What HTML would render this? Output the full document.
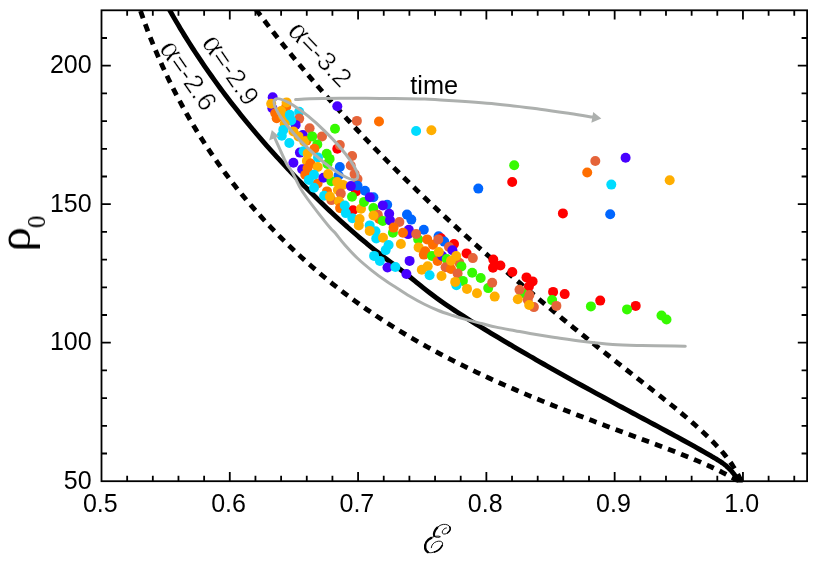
<!DOCTYPE html>
<html><head><meta charset="utf-8"><title>chart</title>
<style>html,body{margin:0;padding:0;background:#fff;}svg{display:block;}text{font-family:"Liberation Sans",sans-serif;fill:#000;}</style></head>
<body>
<svg width="831" height="566" viewBox="0 0 831 566">
<rect width="831" height="566" fill="#fff"/>
<defs><clipPath id="cp"><rect x="101.50" y="10.30" width="705.60" height="472.10"/></clipPath></defs>
<g clip-path="url(#cp)" fill="none" stroke="#000">
<path d="M136.39,-1.51 C136.84,-0.12 138.19,4.05 139.12,6.82 C140.05,9.59 141.00,12.34 141.97,15.09 C142.94,17.84 143.92,20.58 144.92,23.31 C145.92,26.04 146.94,28.76 147.98,31.47 C149.02,34.18 150.07,36.89 151.14,39.58 C152.21,42.27 153.31,44.95 154.42,47.62 C155.53,50.29 156.65,52.96 157.79,55.61 C158.93,58.26 160.10,60.90 161.28,63.53 C162.46,66.16 163.66,68.79 164.87,71.40 C166.08,74.01 167.31,76.61 168.56,79.20 C169.81,81.79 171.08,84.37 172.37,86.94 C173.66,89.51 174.96,92.07 176.28,94.62 C177.60,97.17 178.94,99.71 180.29,102.23 C181.64,104.75 183.02,107.27 184.41,109.77 C185.80,112.27 187.21,114.77 188.64,117.25 C190.07,119.73 191.51,122.20 192.97,124.66 C194.43,127.12 195.91,129.56 197.41,132.00 C198.91,134.44 200.43,136.86 201.96,139.27 C203.49,141.68 205.04,144.08 206.61,146.47 C208.18,148.86 209.77,151.24 211.37,153.60 C212.97,155.96 214.59,158.31 216.23,160.65 C217.87,162.99 219.53,165.32 221.20,167.64 C222.87,169.96 224.56,172.26 226.27,174.55 C227.98,176.84 229.70,179.12 231.45,181.38 C233.19,183.64 234.96,185.90 236.74,188.14 C238.52,190.38 240.32,192.61 242.13,194.82 C243.94,197.03 245.77,199.23 247.62,201.42 C249.47,203.61 251.33,205.78 253.21,207.94 C255.09,210.10 256.99,212.25 258.90,214.39 C260.81,216.52 262.74,218.64 264.69,220.75 C266.64,222.86 268.60,224.95 270.58,227.03 C272.56,229.11 274.54,231.18 276.55,233.23 C278.56,235.28 280.58,237.32 282.62,239.34 C284.66,241.36 286.71,243.37 288.78,245.37 C290.85,247.37 292.93,249.35 295.02,251.32 C297.11,253.29 299.22,255.24 301.34,257.18 C303.46,259.12 305.60,261.04 307.75,262.95 C309.90,264.86 312.06,266.75 314.24,268.63 C316.42,270.51 318.61,272.37 320.81,274.22 C323.01,276.07 325.23,277.91 327.46,279.73 C329.69,281.55 331.93,283.35 334.18,285.14 C336.43,286.93 338.70,288.70 340.97,290.46 C343.25,292.22 345.53,293.96 347.83,295.69 C350.13,297.42 352.44,299.13 354.76,300.83 C357.08,302.53 359.41,304.21 361.75,305.87 C364.09,307.53 366.45,309.18 368.82,310.81 C371.19,312.44 373.56,314.06 375.94,315.66 C378.32,317.26 380.72,318.84 383.12,320.41 C385.52,321.98 387.94,323.52 390.36,325.06 C392.78,326.60 395.22,328.12 397.66,329.62 C400.10,331.12 402.55,332.61 405.01,334.09 C407.47,335.56 409.93,337.02 412.41,338.47 C414.89,339.92 417.38,341.35 419.87,342.77 C422.36,344.19 424.86,345.59 427.37,346.98 C429.88,348.37 432.40,349.75 434.92,351.11 C437.44,352.47 439.98,353.82 442.52,355.16 C445.06,356.50 447.60,357.83 450.15,359.14 C452.70,360.45 455.26,361.75 457.83,363.04 C460.40,364.33 462.97,365.61 465.55,366.88 C468.13,368.15 470.72,369.40 473.31,370.65 C475.90,371.89 478.50,373.13 481.10,374.35 C483.70,375.57 486.31,376.79 488.92,377.99 C491.53,379.19 494.15,380.39 496.77,381.57 C499.39,382.75 502.03,383.92 504.66,385.09 C507.29,386.25 509.93,387.41 512.57,388.56 C515.21,389.71 517.86,390.85 520.51,391.98 C523.16,393.11 525.81,394.22 528.47,395.34 C531.13,396.45 533.79,397.57 536.45,398.67 C539.11,399.77 541.78,400.86 544.45,401.94 C547.12,403.02 549.80,404.11 552.48,405.18 C555.16,406.25 557.83,407.32 560.51,408.38 C563.19,409.44 565.87,410.49 568.56,411.54 C571.25,412.59 573.94,413.63 576.63,414.67 C579.32,415.71 582.01,416.74 584.70,417.77 C587.39,418.80 590.09,419.82 592.78,420.84 C595.47,421.86 598.17,422.88 600.86,423.89 C603.55,424.90 606.25,425.92 608.94,426.93 C611.63,427.94 614.33,428.94 617.02,429.95 C619.71,430.95 622.41,431.96 625.10,432.96 C627.79,433.96 630.47,434.96 633.16,435.96 C635.85,436.96 638.53,437.97 641.21,438.97 C643.89,439.97 646.57,440.97 649.25,441.97 C651.93,442.97 654.60,443.98 657.27,444.98 C659.94,445.99 662.61,446.99 665.27,448.00 C667.93,449.01 670.60,450.03 673.25,451.05 C675.90,452.07 678.56,453.10 681.20,454.15 C683.85,455.20 686.49,456.26 689.12,457.34 C691.75,458.42 694.39,459.51 697.01,460.63 C699.63,461.75 703.25,463.35 704.86,464.06 C706.47,464.77 706.12,464.62 706.68,464.88 C707.24,465.13 707.72,465.35 708.24,465.59 C708.76,465.83 709.28,466.06 709.80,466.30 C710.32,466.54 710.83,466.78 711.35,467.02 C711.87,467.26 712.39,467.50 712.91,467.75 C713.43,468.00 713.94,468.24 714.46,468.49 C714.98,468.74 715.49,468.98 716.01,469.23 C716.53,469.48 717.04,469.73 717.56,469.98 C718.08,470.23 718.60,470.49 719.11,470.74 C719.62,471.00 720.13,471.25 720.65,471.51 C721.16,471.77 721.69,472.03 722.20,472.29 C722.72,472.55 723.23,472.81 723.74,473.07 C724.25,473.33 724.77,473.59 725.28,473.86 C725.79,474.13 726.31,474.40 726.82,474.67 C727.33,474.94 727.85,475.21 728.36,475.48 C728.87,475.75 729.38,476.03 729.89,476.30 C730.40,476.57 730.91,476.85 731.42,477.13 C731.93,477.41 732.45,477.69 732.96,477.97 C733.47,478.25 733.97,478.54 734.48,478.82 C734.99,479.10 735.50,479.38 736.01,479.67 C736.52,479.96 737.03,480.25 737.54,480.54 C738.05,480.83 738.55,481.12 739.06,481.42 C739.57,481.72 740.07,482.01 740.58,482.31 C741.09,482.61 741.85,483.07 742.10,483.22" stroke-width="4.80" stroke-dasharray="7.6 6.4" stroke-dashoffset="0.8"/>
<path d="M249.52,0.58 C250.24,1.57 252.40,4.53 253.85,6.50 C255.30,8.47 256.75,10.44 258.21,12.40 C259.67,14.36 261.15,16.32 262.62,18.27 C264.09,20.22 265.57,22.16 267.05,24.10 C268.53,26.04 270.02,27.98 271.52,29.91 C273.01,31.84 274.51,33.78 276.02,35.70 C277.53,37.62 279.04,39.54 280.56,41.45 C282.08,43.36 283.60,45.27 285.13,47.18 C286.66,49.09 288.19,50.98 289.73,52.88 C291.27,54.78 292.81,56.67 294.36,58.56 C295.91,60.45 297.47,62.33 299.03,64.21 C300.59,66.09 302.15,67.96 303.72,69.83 C305.29,71.70 306.87,73.56 308.45,75.42 C310.03,77.28 311.61,79.14 313.20,80.99 C314.79,82.84 316.39,84.70 317.99,86.54 C319.59,88.39 321.19,90.23 322.80,92.06 C324.41,93.89 326.02,95.72 327.64,97.55 C329.26,99.38 330.88,101.20 332.51,103.02 C334.14,104.84 335.77,106.66 337.41,108.47 C339.05,110.28 340.69,112.09 342.34,113.89 C343.99,115.69 345.63,117.48 347.29,119.28 C348.95,121.08 350.61,122.87 352.27,124.66 C353.93,126.45 355.60,128.23 357.27,130.01 C358.94,131.79 360.62,133.56 362.30,135.33 C363.98,137.10 365.66,138.87 367.35,140.63 C369.04,142.39 370.73,144.15 372.43,145.91 C374.13,147.67 375.82,149.42 377.53,151.17 C379.23,152.92 380.95,154.67 382.66,156.41 C384.37,158.15 386.08,159.89 387.80,161.62 C389.52,163.35 391.25,165.08 392.98,166.81 C394.71,168.54 396.44,170.26 398.17,171.98 C399.90,173.70 401.64,175.42 403.38,177.13 C405.12,178.84 406.87,180.55 408.62,182.26 C410.37,183.97 412.12,185.66 413.88,187.36 C415.63,189.06 417.39,190.76 419.15,192.45 C420.91,194.14 422.68,195.82 424.45,197.51 C426.22,199.19 428.00,200.88 429.77,202.56 C431.54,204.24 433.32,205.91 435.10,207.58 C436.88,209.25 438.66,210.92 440.45,212.59 C442.24,214.26 444.03,215.92 445.82,217.58 C447.61,219.24 449.41,220.89 451.21,222.54 C453.01,224.19 454.81,225.84 456.62,227.49 C458.43,229.14 460.23,230.78 462.04,232.42 C463.85,234.06 465.66,235.70 467.48,237.33 C469.30,238.96 471.12,240.59 472.94,242.22 C474.76,243.85 476.57,245.48 478.40,247.10 C480.22,248.72 482.06,250.34 483.89,251.96 C485.72,253.58 487.56,255.19 489.39,256.80 C491.22,258.41 493.06,260.02 494.90,261.62 C496.74,263.22 498.58,264.82 500.43,266.42 C502.28,268.02 504.12,269.62 505.97,271.21 C507.82,272.80 509.67,274.40 511.52,275.99 C513.37,277.58 515.22,279.16 517.08,280.74 C518.94,282.32 520.80,283.90 522.66,285.48 C524.52,287.06 526.38,288.64 528.25,290.21 C530.12,291.78 531.99,293.35 533.86,294.92 C535.73,296.49 537.60,298.06 539.47,299.62 C541.34,301.18 543.22,302.74 545.10,304.30 C546.98,305.86 548.86,307.42 550.74,308.97 C552.62,310.53 554.50,312.08 556.38,313.63 C558.26,315.18 560.15,316.72 562.04,318.27 C563.93,319.82 565.82,321.37 567.71,322.91 C569.60,324.45 571.49,325.98 573.39,327.52 C575.29,329.06 577.19,330.59 579.09,332.13 C580.99,333.67 582.89,335.20 584.79,336.73 C586.69,338.26 588.60,339.79 590.50,341.31 C592.40,342.83 594.30,344.36 596.21,345.88 C598.12,347.40 600.03,348.93 601.94,350.45 C603.85,351.97 605.76,353.49 607.68,355.00 C609.59,356.51 611.51,358.03 613.43,359.54 C615.35,361.05 617.26,362.56 619.18,364.07 C621.10,365.58 623.02,367.09 624.94,368.60 C626.86,370.11 628.79,371.61 630.71,373.11 C632.63,374.61 634.56,376.12 636.49,377.62 C638.42,379.12 640.34,380.62 642.27,382.12 C644.20,383.62 646.13,385.12 648.06,386.62 C649.99,388.12 651.92,389.62 653.85,391.12 C655.78,392.62 657.70,394.12 659.62,395.63 C661.54,397.14 663.46,398.66 665.37,400.18 C667.28,401.70 669.20,403.22 671.10,404.75 C673.00,406.28 674.90,407.82 676.79,409.37 C678.68,410.92 680.56,412.48 682.43,414.05 C684.30,415.62 686.17,417.20 688.03,418.79 C689.89,420.38 691.74,421.99 693.57,423.61 C695.40,425.23 697.22,426.86 699.03,428.51 C700.84,430.16 702.64,431.82 704.43,433.50 C706.21,435.18 707.99,436.88 709.74,438.60 C711.49,440.32 713.22,442.06 714.91,443.83 C716.60,445.60 718.85,448.06 719.90,449.21 C720.95,450.35 720.81,450.24 721.22,450.70 C721.63,451.16 721.98,451.56 722.35,452.00 C722.72,452.44 723.09,452.87 723.45,453.31 C723.82,453.75 724.18,454.18 724.54,454.62 C724.90,455.06 725.26,455.50 725.62,455.95 C725.98,456.39 726.33,456.84 726.68,457.29 C727.03,457.74 727.38,458.19 727.72,458.64 C728.06,459.09 728.40,459.54 728.74,460.00 C729.08,460.46 729.42,460.92 729.75,461.38 C730.08,461.84 730.40,462.30 730.73,462.76 C731.06,463.22 731.38,463.69 731.70,464.16 C732.02,464.63 732.33,465.11 732.64,465.58 C732.95,466.05 733.27,466.52 733.57,467.00 C733.88,467.48 734.17,467.96 734.47,468.44 C734.77,468.92 735.06,469.40 735.35,469.89 C735.64,470.38 735.92,470.87 736.20,471.36 C736.48,471.85 736.76,472.34 737.03,472.84 C737.30,473.34 737.58,473.84 737.84,474.34 C738.11,474.84 738.37,475.34 738.62,475.85 C738.88,476.36 739.12,476.87 739.37,477.38 C739.62,477.89 739.86,478.41 740.10,478.93 C740.34,479.45 740.57,479.96 740.80,480.48 C741.03,481.00 741.25,481.53 741.47,482.06 C741.69,482.59 742.00,483.38 742.11,483.65" stroke-width="4.80" stroke-dasharray="7.6 6.4" stroke-dashoffset="3.1"/>
<path d="M163.92,-0.22 C164.57,0.98 166.53,4.57 167.85,6.95 C169.17,9.33 170.51,11.71 171.86,14.07 C173.21,16.43 174.57,18.79 175.94,21.13 C177.31,23.47 178.70,25.81 180.10,28.14 C181.50,30.47 182.91,32.79 184.34,35.10 C185.77,37.41 187.20,39.72 188.65,42.01 C190.10,44.30 191.57,46.58 193.04,48.86 C194.51,51.14 195.99,53.41 197.49,55.67 C198.99,57.93 200.50,60.18 202.02,62.42 C203.54,64.66 205.08,66.90 206.62,69.13 C208.16,71.36 209.72,73.57 211.29,75.78 C212.86,77.99 214.43,80.19 216.02,82.38 C217.61,84.57 219.21,86.76 220.82,88.94 C222.43,91.12 224.06,93.29 225.69,95.45 C227.32,97.61 228.97,99.77 230.62,101.91 C232.28,104.05 233.94,106.19 235.62,108.32 C237.30,110.45 238.98,112.57 240.68,114.68 C242.38,116.79 244.08,118.90 245.80,121.00 C247.52,123.10 249.24,125.19 250.98,127.27 C252.72,129.35 254.46,131.43 256.22,133.50 C257.98,135.57 259.75,137.63 261.52,139.68 C263.29,141.73 265.07,143.77 266.87,145.81 C268.67,147.85 270.48,149.88 272.29,151.90 C274.10,153.92 275.92,155.94 277.75,157.95 C279.58,159.96 281.42,161.96 283.27,163.95 C285.12,165.94 286.98,167.93 288.85,169.91 C290.72,171.89 292.60,173.87 294.48,175.83 C296.36,177.80 298.25,179.75 300.15,181.70 C302.05,183.65 303.96,185.60 305.88,187.54 C307.80,189.48 309.73,191.41 311.66,193.33 C313.59,195.25 315.53,197.16 317.48,199.07 C319.43,200.97 321.39,202.87 323.36,204.76 C325.33,206.65 327.30,208.52 329.28,210.39 C331.26,212.26 333.24,214.12 335.24,215.97 C337.24,217.82 339.25,219.66 341.26,221.48 C343.27,223.30 345.28,225.12 347.31,226.92 C349.34,228.72 351.38,230.51 353.42,232.28 C355.46,234.05 357.50,235.82 359.56,237.56 C361.62,239.30 363.68,241.03 365.75,242.74 C367.82,244.45 369.91,246.15 371.99,247.83 C374.07,249.51 376.16,251.16 378.26,252.80 C380.36,254.44 382.47,256.06 384.58,257.66 C386.69,259.26 388.81,260.84 390.94,262.42 C393.07,264.00 395.20,265.56 397.34,267.17 C399.48,268.78 401.62,270.40 403.77,272.08 C405.92,273.76 408.08,275.50 410.25,277.25 C412.42,279.00 414.59,280.80 416.77,282.57 C418.95,284.34 421.13,286.13 423.32,287.87 C425.51,289.61 427.71,291.32 429.91,293.00 C432.11,294.68 434.32,296.31 436.53,297.93 C438.74,299.55 440.96,301.13 443.19,302.69 C445.42,304.25 447.65,305.79 449.89,307.30 C452.13,308.81 454.37,310.30 456.62,311.78 C458.87,313.26 461.12,314.72 463.38,316.16 C465.64,317.61 467.91,319.03 470.18,320.45 C472.45,321.87 474.73,323.28 477.01,324.69 C479.29,326.10 481.57,327.49 483.86,328.88 C486.15,330.27 488.45,331.67 490.75,333.06 C493.05,334.45 495.36,335.84 497.67,337.22 C499.98,338.60 502.30,339.98 504.62,341.36 C506.94,342.74 509.26,344.11 511.59,345.48 C513.92,346.85 516.25,348.21 518.59,349.58 C520.93,350.94 523.27,352.31 525.61,353.67 C527.95,355.03 530.30,356.39 532.65,357.74 C535.00,359.09 537.36,360.44 539.71,361.79 C542.07,363.14 544.42,364.48 546.78,365.82 C549.14,367.16 551.51,368.50 553.88,369.84 C556.25,371.18 558.62,372.51 560.99,373.84 C563.36,375.17 565.73,376.50 568.11,377.82 C570.49,379.14 572.87,380.47 575.25,381.79 C577.63,383.11 580.01,384.43 582.40,385.74 C584.78,387.06 587.17,388.37 589.56,389.68 C591.95,390.99 594.33,392.31 596.72,393.61 C599.11,394.92 601.50,396.21 603.89,397.51 C606.28,398.81 608.68,400.11 611.07,401.41 C613.46,402.71 615.86,404.00 618.25,405.29 C620.64,406.58 623.04,407.87 625.43,409.16 C627.82,410.45 630.22,411.74 632.61,413.02 C635.00,414.30 637.40,415.58 639.79,416.86 C642.18,418.14 644.58,419.42 646.97,420.70 C649.36,421.98 651.75,423.25 654.14,424.53 C656.53,425.81 658.91,427.09 661.30,428.37 C663.68,429.65 666.07,430.93 668.45,432.22 C670.83,433.51 673.21,434.79 675.59,436.09 C677.97,437.38 680.34,438.69 682.71,439.99 C685.08,441.30 687.45,442.61 689.82,443.92 C692.19,445.24 694.55,446.55 696.91,447.88 C699.27,449.21 701.62,450.54 703.97,451.89 C706.32,453.24 709.55,455.12 711.01,455.96 C712.47,456.80 712.21,456.65 712.74,456.96 C713.27,457.27 713.73,457.54 714.22,457.83 C714.71,458.12 715.20,458.42 715.69,458.71 C716.18,459.00 716.67,459.29 717.16,459.59 C717.65,459.89 718.14,460.19 718.62,460.50 C719.10,460.81 719.58,461.11 720.06,461.42 C720.54,461.73 721.01,462.05 721.48,462.37 C721.95,462.69 722.43,463.02 722.89,463.36 C723.35,463.70 723.81,464.04 724.26,464.39 C724.71,464.74 725.17,465.09 725.61,465.45 C726.05,465.81 726.49,466.18 726.92,466.56 C727.35,466.94 727.78,467.33 728.20,467.72 C728.62,468.11 729.03,468.51 729.43,468.91 C729.83,469.31 730.23,469.72 730.62,470.14 C731.01,470.56 731.39,470.98 731.77,471.41 C732.14,471.84 732.51,472.27 732.87,472.71 C733.23,473.15 733.59,473.59 733.94,474.04 C734.29,474.49 734.64,474.94 734.99,475.40 C735.34,475.85 735.67,476.31 736.01,476.77 C736.35,477.23 736.69,477.70 737.03,478.17 C737.37,478.64 737.71,479.10 738.05,479.57 C738.39,480.04 738.73,480.51 739.08,480.98 C739.43,481.45 739.78,481.92 740.13,482.39 C740.48,482.86 741.02,483.56 741.20,483.80" stroke-width="4.90"/>
</g>
<g>
<circle cx="356.0" cy="191.4" r="5.00" fill="#ff0000"/>
<circle cx="353.0" cy="210.2" r="5.00" fill="#ff0000"/>
<circle cx="379.2" cy="219.0" r="5.00" fill="#ff6e00"/>
<circle cx="317.6" cy="183.5" r="5.00" fill="#ff6e00"/>
<circle cx="272.7" cy="97.3" r="5.00" fill="#4800ff"/>
<circle cx="272.4" cy="108.2" r="5.00" fill="#4800ff"/>
<circle cx="271.2" cy="103.8" r="5.00" fill="#ffae00"/>
<circle cx="286.2" cy="106.7" r="5.00" fill="#ff6e00"/>
<circle cx="286.6" cy="102.4" r="5.00" fill="#ffae00"/>
<circle cx="275.3" cy="113.3" r="5.00" fill="#ff6e00"/>
<circle cx="276.7" cy="118.3" r="5.00" fill="#ff6e00"/>
<circle cx="281.1" cy="111.1" r="5.00" fill="#ffae00"/>
<circle cx="283.3" cy="116.2" r="5.00" fill="#ffae00"/>
<circle cx="299.2" cy="111.8" r="5.00" fill="#00dcff"/>
<circle cx="289.8" cy="114.7" r="5.00" fill="#00dcff"/>
<circle cx="299.2" cy="118.6" r="5.00" fill="#e5643a"/>
<circle cx="295.6" cy="124.9" r="5.00" fill="#4800ff"/>
<circle cx="291.2" cy="120.5" r="5.00" fill="#00dcff"/>
<circle cx="284.7" cy="124.1" r="5.00" fill="#ffae00"/>
<circle cx="283.3" cy="129.9" r="5.00" fill="#00dcff"/>
<circle cx="281.8" cy="135.7" r="5.00" fill="#00dcff"/>
<circle cx="289.3" cy="143.0" r="5.00" fill="#00dcff"/>
<circle cx="302.8" cy="135.0" r="5.00" fill="#4800ff"/>
<circle cx="293.4" cy="131.4" r="5.00" fill="#ffae00"/>
<circle cx="298.5" cy="136.4" r="5.00" fill="#ffae00"/>
<circle cx="306.4" cy="140.8" r="5.00" fill="#ff6e00"/>
<circle cx="304.3" cy="141.5" r="5.00" fill="#ffae00"/>
<circle cx="309.6" cy="128.2" r="5.00" fill="#e5643a"/>
<circle cx="312.2" cy="136.4" r="5.00" fill="#36fa00"/>
<circle cx="322.0" cy="136.4" r="5.00" fill="#e5643a"/>
<circle cx="317.3" cy="144.4" r="5.00" fill="#36fa00"/>
<circle cx="314.4" cy="148.8" r="5.00" fill="#ff6e00"/>
<circle cx="335.0" cy="128.8" r="5.00" fill="#36fa00"/>
<circle cx="337.3" cy="106.3" r="5.00" fill="#4800ff"/>
<circle cx="356.9" cy="120.9" r="5.00" fill="#e5643a"/>
<circle cx="379.0" cy="121.5" r="5.00" fill="#ff6e00"/>
<circle cx="337.3" cy="148.8" r="5.00" fill="#ff0000"/>
<circle cx="339.8" cy="145.1" r="5.00" fill="#e5643a"/>
<circle cx="352.1" cy="156.0" r="5.00" fill="#e5643a"/>
<circle cx="350.7" cy="165.5" r="5.00" fill="#e5643a"/>
<circle cx="326.7" cy="153.8" r="5.00" fill="#36fa00"/>
<circle cx="329.6" cy="158.9" r="5.00" fill="#36fa00"/>
<circle cx="327.5" cy="164.0" r="5.00" fill="#36fa00"/>
<circle cx="339.8" cy="167.0" r="5.00" fill="#0066ff"/>
<circle cx="299.9" cy="152.6" r="5.00" fill="#4800ff"/>
<circle cx="303.6" cy="151.3" r="5.00" fill="#00dcff"/>
<circle cx="307.7" cy="153.4" r="5.00" fill="#ffae00"/>
<circle cx="306.9" cy="160.9" r="5.00" fill="#ffae00"/>
<circle cx="310.5" cy="163.5" r="5.00" fill="#ff6e00"/>
<circle cx="318.0" cy="157.5" r="5.00" fill="#00dcff"/>
<circle cx="317.7" cy="167.0" r="5.00" fill="#ffae00"/>
<circle cx="293.4" cy="162.7" r="5.00" fill="#4800ff"/>
<circle cx="302.2" cy="169.2" r="5.00" fill="#4800ff"/>
<circle cx="354.6" cy="174.1" r="5.00" fill="#e5643a"/>
<circle cx="357.5" cy="179.1" r="5.00" fill="#e5643a"/>
<circle cx="338.6" cy="175.5" r="5.00" fill="#0066ff"/>
<circle cx="307.5" cy="168.3" r="5.00" fill="#ff6e00"/>
<circle cx="305.3" cy="174.8" r="5.00" fill="#ff6e00"/>
<circle cx="314.0" cy="174.8" r="5.00" fill="#00dcff"/>
<circle cx="308.9" cy="179.9" r="5.00" fill="#00dcff"/>
<circle cx="314.0" cy="187.8" r="5.00" fill="#00dcff"/>
<circle cx="323.4" cy="177.7" r="5.00" fill="#4800ff"/>
<circle cx="331.4" cy="181.3" r="5.00" fill="#36fa00"/>
<circle cx="328.2" cy="174.1" r="5.00" fill="#ffae00"/>
<circle cx="337.2" cy="182.0" r="5.00" fill="#ffae00"/>
<circle cx="343.0" cy="184.9" r="5.00" fill="#ffae00"/>
<circle cx="337.9" cy="190.0" r="5.00" fill="#ffae00"/>
<circle cx="357.5" cy="185.7" r="5.00" fill="#0066ff"/>
<circle cx="350.9" cy="186.1" r="5.00" fill="#4800ff"/>
<circle cx="365.0" cy="190.7" r="5.00" fill="#0066ff"/>
<circle cx="352.0" cy="196.8" r="5.00" fill="#36fa00"/>
<circle cx="327.0" cy="191.4" r="5.00" fill="#ff6e00"/>
<circle cx="324.1" cy="195.8" r="5.00" fill="#00dcff"/>
<circle cx="331.4" cy="200.1" r="5.00" fill="#e5643a"/>
<circle cx="329.9" cy="196.5" r="5.00" fill="#ffae00"/>
<circle cx="340.8" cy="193.6" r="5.00" fill="#e5643a"/>
<circle cx="339.0" cy="201.4" r="5.00" fill="#ffae00"/>
<circle cx="340.1" cy="208.1" r="5.00" fill="#ff6e00"/>
<circle cx="344.8" cy="205.5" r="5.00" fill="#00dcff"/>
<circle cx="345.8" cy="213.1" r="5.00" fill="#00dcff"/>
<circle cx="361.0" cy="208.8" r="5.00" fill="#ffae00"/>
<circle cx="364.0" cy="201.9" r="5.00" fill="#36fa00"/>
<circle cx="373.4" cy="197.2" r="5.00" fill="#0066ff"/>
<circle cx="369.8" cy="197.2" r="5.00" fill="#4800ff"/>
<circle cx="373.4" cy="208.1" r="5.00" fill="#36fa00"/>
<circle cx="377.8" cy="214.8" r="5.00" fill="#e5643a"/>
<circle cx="373.5" cy="215.5" r="5.00" fill="#ffae00"/>
<circle cx="387.2" cy="204.8" r="5.00" fill="#0066ff"/>
<circle cx="382.8" cy="205.4" r="5.00" fill="#4800ff"/>
<circle cx="389.2" cy="213.8" r="5.00" fill="#4800ff"/>
<circle cx="352.4" cy="218.2" r="5.00" fill="#00dcff"/>
<circle cx="359.6" cy="219.0" r="5.00" fill="#ffae00"/>
<circle cx="382.8" cy="221.0" r="5.00" fill="#36fa00"/>
<circle cx="390.0" cy="220.4" r="5.00" fill="#4800ff"/>
<circle cx="358.8" cy="225.4" r="5.00" fill="#ffae00"/>
<circle cx="369.7" cy="225.4" r="5.00" fill="#00dcff"/>
<circle cx="375.5" cy="231.2" r="5.00" fill="#00dcff"/>
<circle cx="369.7" cy="230.9" r="5.00" fill="#ffae00"/>
<circle cx="376.2" cy="238.5" r="5.00" fill="#00dcff"/>
<circle cx="383.0" cy="237.8" r="5.00" fill="#ffae00"/>
<circle cx="388.6" cy="245.0" r="5.00" fill="#00dcff"/>
<circle cx="385.7" cy="250.1" r="5.00" fill="#00dcff"/>
<circle cx="374.1" cy="255.9" r="5.00" fill="#00dcff"/>
<circle cx="379.9" cy="260.9" r="5.00" fill="#00dcff"/>
<circle cx="387.5" cy="267.5" r="5.00" fill="#4800ff"/>
<circle cx="395.4" cy="267.0" r="5.00" fill="#00dcff"/>
<circle cx="409.6" cy="260.9" r="5.00" fill="#4800ff"/>
<circle cx="406.4" cy="274.0" r="5.00" fill="#4800ff"/>
<circle cx="400.9" cy="244.0" r="5.00" fill="#ffae00"/>
<circle cx="399.4" cy="222.0" r="5.00" fill="#e5643a"/>
<circle cx="392.9" cy="232.7" r="5.00" fill="#36fa00"/>
<circle cx="393.6" cy="227.6" r="5.00" fill="#ff6e00"/>
<circle cx="408.8" cy="229.8" r="5.00" fill="#4800ff"/>
<circle cx="408.1" cy="234.1" r="5.00" fill="#4800ff"/>
<circle cx="403.0" cy="232.7" r="5.00" fill="#ff6e00"/>
<circle cx="407.0" cy="214.6" r="5.00" fill="#0066ff"/>
<circle cx="411.3" cy="219.6" r="5.00" fill="#0066ff"/>
<circle cx="423.8" cy="229.8" r="5.00" fill="#0066ff"/>
<circle cx="418.2" cy="239.4" r="5.00" fill="#36fa00"/>
<circle cx="416.2" cy="234.0" r="5.00" fill="#e5643a"/>
<circle cx="418.6" cy="247.4" r="5.00" fill="#ffae00"/>
<circle cx="427.2" cy="239.4" r="5.00" fill="#ff6e00"/>
<circle cx="433.0" cy="244.8" r="5.00" fill="#ff6e00"/>
<circle cx="423.8" cy="254.6" r="5.00" fill="#ff6e00"/>
<circle cx="425.2" cy="251.2" r="5.00" fill="#ff6e00"/>
<circle cx="432.0" cy="256.0" r="5.00" fill="#36fa00"/>
<circle cx="437.6" cy="261.0" r="5.00" fill="#ff6e00"/>
<circle cx="438.6" cy="236.2" r="5.00" fill="#0066ff"/>
<circle cx="441.0" cy="238.3" r="5.00" fill="#ff0000"/>
<circle cx="444.2" cy="241.6" r="5.00" fill="#0066ff"/>
<circle cx="438.3" cy="239.4" r="5.00" fill="#e5643a"/>
<circle cx="454.0" cy="244.0" r="5.00" fill="#ff0000"/>
<circle cx="449.0" cy="247.0" r="5.00" fill="#e5643a"/>
<circle cx="452.4" cy="250.3" r="5.00" fill="#4800ff"/>
<circle cx="442.2" cy="256.0" r="5.00" fill="#4800ff"/>
<circle cx="446.7" cy="259.0" r="5.00" fill="#36fa00"/>
<circle cx="438.8" cy="252.0" r="5.00" fill="#ffae00"/>
<circle cx="459.3" cy="262.8" r="5.00" fill="#e5643a"/>
<circle cx="461.4" cy="266.4" r="5.00" fill="#36fa00"/>
<circle cx="445.6" cy="267.3" r="5.00" fill="#e5643a"/>
<circle cx="451.0" cy="269.0" r="5.00" fill="#ff6e00"/>
<circle cx="457.6" cy="273.5" r="5.00" fill="#e5643a"/>
<circle cx="421.8" cy="269.8" r="5.00" fill="#ffae00"/>
<circle cx="427.7" cy="266.2" r="5.00" fill="#ffae00"/>
<circle cx="429.6" cy="275.2" r="5.00" fill="#00dcff"/>
<circle cx="441.5" cy="276.0" r="5.00" fill="#ffae00"/>
<circle cx="462.9" cy="280.9" r="5.00" fill="#36fa00"/>
<circle cx="456.4" cy="285.2" r="5.00" fill="#00dcff"/>
<circle cx="455.2" cy="281.9" r="5.00" fill="#ffae00"/>
<circle cx="466.6" cy="253.4" r="5.00" fill="#ff0000"/>
<circle cx="472.8" cy="258.1" r="5.00" fill="#e5643a"/>
<circle cx="472.2" cy="272.8" r="5.00" fill="#36fa00"/>
<circle cx="480.7" cy="278.0" r="5.00" fill="#36fa00"/>
<circle cx="488.2" cy="288.1" r="5.00" fill="#36fa00"/>
<circle cx="492.2" cy="282.7" r="5.00" fill="#e5643a"/>
<circle cx="467.0" cy="288.9" r="5.00" fill="#ffae00"/>
<circle cx="477.0" cy="293.2" r="5.00" fill="#ffae00"/>
<circle cx="494.7" cy="296.6" r="5.00" fill="#ffae00"/>
<circle cx="493.3" cy="259.6" r="5.00" fill="#ff0000"/>
<circle cx="500.4" cy="265.5" r="5.00" fill="#ff0000"/>
<circle cx="493.0" cy="267.8" r="5.00" fill="#ff0000"/>
<circle cx="512.3" cy="272.0" r="5.00" fill="#ff0000"/>
<circle cx="526.5" cy="277.4" r="5.00" fill="#ff0000"/>
<circle cx="532.6" cy="281.4" r="5.00" fill="#ff0000"/>
<circle cx="528.9" cy="286.5" r="5.00" fill="#ff0000"/>
<circle cx="522.3" cy="293.2" r="5.00" fill="#36fa00"/>
<circle cx="519.5" cy="289.8" r="5.00" fill="#e5643a"/>
<circle cx="529.4" cy="295.1" r="5.00" fill="#e5643a"/>
<circle cx="517.8" cy="299.2" r="5.00" fill="#ffae00"/>
<circle cx="533.9" cy="307.1" r="5.00" fill="#e5643a"/>
<circle cx="527.8" cy="299.9" r="5.00" fill="#e5643a"/>
<circle cx="529.2" cy="305.0" r="5.00" fill="#ffae00"/>
<circle cx="553.1" cy="291.9" r="5.00" fill="#ff0000"/>
<circle cx="564.7" cy="294.1" r="5.00" fill="#ff0000"/>
<circle cx="552.1" cy="300.1" r="5.00" fill="#36fa00"/>
<circle cx="556.4" cy="305.9" r="5.00" fill="#e5643a"/>
<circle cx="600.2" cy="300.6" r="5.00" fill="#ff0000"/>
<circle cx="590.9" cy="306.4" r="5.00" fill="#36fa00"/>
<circle cx="635.7" cy="305.9" r="5.00" fill="#ff0000"/>
<circle cx="627.0" cy="309.4" r="5.00" fill="#36fa00"/>
<circle cx="661.5" cy="315.5" r="5.00" fill="#36fa00"/>
<circle cx="666.5" cy="319.5" r="5.00" fill="#36fa00"/>
<circle cx="416.1" cy="131.0" r="5.00" fill="#00dcff"/>
<circle cx="431.4" cy="130.2" r="5.00" fill="#ffae00"/>
<circle cx="514.2" cy="165.2" r="5.00" fill="#36fa00"/>
<circle cx="512.2" cy="182.0" r="5.00" fill="#ff0000"/>
<circle cx="478.3" cy="188.6" r="5.00" fill="#0066ff"/>
<circle cx="595.3" cy="161.0" r="5.00" fill="#e5643a"/>
<circle cx="625.6" cy="157.8" r="5.00" fill="#4800ff"/>
<circle cx="587.2" cy="172.5" r="5.00" fill="#ff6e00"/>
<circle cx="611.3" cy="184.6" r="5.00" fill="#00dcff"/>
<circle cx="669.7" cy="180.2" r="5.00" fill="#ffae00"/>
<circle cx="562.9" cy="213.4" r="5.00" fill="#ff0000"/>
<circle cx="610.2" cy="214.2" r="5.00" fill="#0066ff"/>
<circle cx="451.0" cy="260.8" r="5.00" fill="#ffae00"/>
<circle cx="456.2" cy="256.0" r="5.00" fill="#ffae00"/>
</g>
<g fill="none" stroke="#adb0ae" stroke-width="3.00" stroke-linecap="round">
<path d="M295.60,99.60 C298.00,99.45 302.60,98.92 310.00,98.70 C317.40,98.48 328.33,98.35 340.00,98.30 C351.67,98.25 366.67,98.28 380.00,98.40 C393.33,98.52 410.37,98.77 420.00,99.00 C429.63,99.23 425.22,98.98 437.80,99.80 C450.38,100.62 478.47,102.33 495.50,103.90 C512.53,105.47 527.58,107.60 540.00,109.20 C552.42,110.80 561.25,112.18 570.00,113.50 C578.75,114.82 588.75,116.50 592.50,117.10"/>
<path d="M685.30,346.30 C683.58,346.27 682.28,346.23 675.00,346.10 C667.72,345.97 651.97,345.78 641.60,345.50 C631.23,345.22 622.42,345.07 612.80,344.40 C603.18,343.73 593.53,342.67 583.90,341.50 C574.27,340.33 563.98,338.73 555.00,337.40 C546.02,336.07 536.67,334.62 530.00,333.50 C523.33,332.38 520.65,331.77 515.00,330.70 C509.35,329.63 501.67,328.30 496.10,327.10 C490.53,325.90 486.42,324.70 481.60,323.50 C476.78,322.30 472.00,321.23 467.20,319.90 C462.40,318.57 457.62,317.07 452.80,315.50 C447.98,313.93 443.12,312.42 438.30,310.50 C433.48,308.58 428.72,306.42 423.90,304.00 C419.08,301.58 414.22,298.88 409.40,296.00 C404.58,293.12 398.88,289.18 395.00,286.70 C391.12,284.22 390.00,283.83 386.10,281.10 C382.20,278.37 376.42,274.15 371.60,270.30 C366.78,266.45 361.65,262.22 357.20,258.00 C352.75,253.78 348.60,249.20 344.90,245.00 C341.20,240.80 337.43,235.63 335.00,232.80 C332.57,229.97 333.05,231.25 330.30,228.00 C327.55,224.75 322.40,218.30 318.50,213.30 C314.60,208.30 310.03,202.40 306.90,198.00 C303.77,193.60 302.12,191.17 299.70,186.90 C297.28,182.63 294.43,176.02 292.40,172.40 C290.37,168.78 288.93,167.60 287.50,165.20 C286.07,162.80 285.17,160.87 283.80,158.00 C282.43,155.13 280.77,151.25 279.30,148.00 C277.83,144.75 275.72,140.08 275.00,138.50"/>
<ellipse cx="315.90" cy="139.20" rx="57.00" ry="12.00" transform="rotate(44.00 315.90 139.20)"/>
</g>
<path d="M601.3,118.4 L593.2,112 L591.4,122.7 Z" fill="#adb0ae"/>
<path d="M271.8,130 L269.1,140.6 L279,136.5 Z" fill="#adb0ae"/>
<rect x="101.50" y="10.30" width="705.60" height="470.90" fill="none" stroke="#000" stroke-width="1.80"/>
<path d="M127.16,481.20v-5.50M127.16,10.30v5.50M152.82,481.20v-5.50M152.82,10.30v5.50M178.47,481.20v-5.50M178.47,10.30v5.50M204.13,481.20v-5.50M204.13,10.30v5.50M229.79,481.20v-9.30M229.79,10.30v9.30M255.45,481.20v-5.50M255.45,10.30v5.50M281.11,481.20v-5.50M281.11,10.30v5.50M306.77,481.20v-5.50M306.77,10.30v5.50M332.42,481.20v-5.50M332.42,10.30v5.50M358.08,481.20v-9.30M358.08,10.30v9.30M383.74,481.20v-5.50M383.74,10.30v5.50M409.40,481.20v-5.50M409.40,10.30v5.50M435.06,481.20v-5.50M435.06,10.30v5.50M460.71,481.20v-5.50M460.71,10.30v5.50M486.37,481.20v-9.30M486.37,10.30v9.30M512.03,481.20v-5.50M512.03,10.30v5.50M537.69,481.20v-5.50M537.69,10.30v5.50M563.35,481.20v-5.50M563.35,10.30v5.50M589.01,481.20v-5.50M589.01,10.30v5.50M614.66,481.20v-9.30M614.66,10.30v9.30M640.32,481.20v-5.50M640.32,10.30v5.50M665.98,481.20v-5.50M665.98,10.30v5.50M691.64,481.20v-5.50M691.64,10.30v5.50M717.30,481.20v-5.50M717.30,10.30v5.50M742.95,481.20v-9.30M742.95,10.30v9.30M768.61,481.20v-5.50M768.61,10.30v5.50M794.27,481.20v-5.50M794.27,10.30v5.50M101.50,453.50h5.50M807.10,453.50h-5.50M101.50,425.80h5.50M807.10,425.80h-5.50M101.50,398.10h5.50M807.10,398.10h-5.50M101.50,370.40h5.50M807.10,370.40h-5.50M101.50,342.70h9.30M807.10,342.70h-9.30M101.50,315.00h5.50M807.10,315.00h-5.50M101.50,287.30h5.50M807.10,287.30h-5.50M101.50,259.60h5.50M807.10,259.60h-5.50M101.50,231.90h5.50M807.10,231.90h-5.50M101.50,204.20h9.30M807.10,204.20h-9.30M101.50,176.50h5.50M807.10,176.50h-5.50M101.50,148.80h5.50M807.10,148.80h-5.50M101.50,121.10h5.50M807.10,121.10h-5.50M101.50,93.40h5.50M807.10,93.40h-5.50M101.50,65.70h9.30M807.10,65.70h-9.30M101.50,38.00h5.50M807.10,38.00h-5.50" stroke="#000" stroke-width="1.80" fill="none"/>
<g style="filter:grayscale(1)">
<text x="100.30" y="511.50" font-size="25.00" text-anchor="middle">0.5</text>
<text x="228.59" y="511.50" font-size="25.00" text-anchor="middle">0.6</text>
<text x="356.88" y="511.50" font-size="25.00" text-anchor="middle">0.7</text>
<text x="485.17" y="511.50" font-size="25.00" text-anchor="middle">0.8</text>
<text x="613.46" y="511.50" font-size="25.00" text-anchor="middle">0.9</text>
<text x="741.75" y="511.50" font-size="25.00" text-anchor="middle">1.0</text>
<text x="91.60" y="488.60" font-size="25.00" text-anchor="end">50</text>
<text x="91.60" y="350.10" font-size="25.00" text-anchor="end">100</text>
<text x="91.60" y="211.60" font-size="25.00" text-anchor="end">150</text>
<text x="91.60" y="73.10" font-size="25.00" text-anchor="end">200</text>
<text x="410.30" y="94.40" font-size="25.30" fill="#1a1a1a">time</text>
<text transform="translate(158.50 48.50) rotate(55.00)" font-size="26.50" stroke="#fff" stroke-width="0.45"><tspan style="font-family:'Liberation Serif',serif" font-size="33.12">α</tspan>=-2.6</text>
<text transform="translate(201.00 42.70) rotate(55.40)" font-size="26.50" stroke="#fff" stroke-width="0.45"><tspan style="font-family:'Liberation Serif',serif" font-size="33.12">α</tspan>=-2.9</text>
<text transform="translate(286.50 32.00) rotate(46.50)" font-size="26.50" stroke="#fff" stroke-width="0.45"><tspan style="font-family:'Liberation Serif',serif" font-size="33.12">α</tspan>=-3.2</text>
<g transform="translate(30 251.6) rotate(-90)"><text font-size="46" x="0" y="0" transform="scale(1.07 1)" style="font-family:'Liberation Serif',serif">ρ</text><text x="23.5" y="15" font-size="25" style="font-family:'Liberation Serif',serif">0</text></g>
<g fill="none" stroke="#000" stroke-linecap="round" stroke-linejoin="round"><path stroke-width="0.9" d="M446.4,527.9 C444.5,528 442.5,530 442.2,532 C442,534.3 444.8,534.5 446.6,533.5 C449,532.2 450.8,530.2 450.3,528 C449.8,525.3 446.5,524 443.3,524.4 C440,524.8 437.5,527 436,529.3 C434,532.3 433,535 434.3,536.3 C435.5,537.5 439,537.8 440.4,536.7 C439,535.5 435,536.3 432.7,537.1 C429.5,538.3 427.5,540 426.3,542 C424.5,545 424,548.5 426,551 C427.5,552.8 430,552.9 431.8,552.6 C434.5,552.2 437,551 439,549 C441.5,546.7 443,544.5 442.6,543 C442,541 439,540.8 436.5,541.6 C433.5,542.6 431.5,545 431.3,547.7"/><path stroke-width="2.2" d="M437.3,527.6 C434.6,530.2 433.3,534 434.2,535.8"/><path stroke-width="2.4" d="M431.3,537.9 C427,539.8 424.7,544 425.2,548 C425.4,549.8 426.3,551.3 427.8,552.1"/><path stroke-width="1.5" d="M449.6,526.7 C450.8,528.5 450,531 447.5,533"/><path stroke-width="1.6" d="M442.3,545.3 C441,548 438,551 434.5,552.1"/></g>
</g>
</svg>
</body></html>
